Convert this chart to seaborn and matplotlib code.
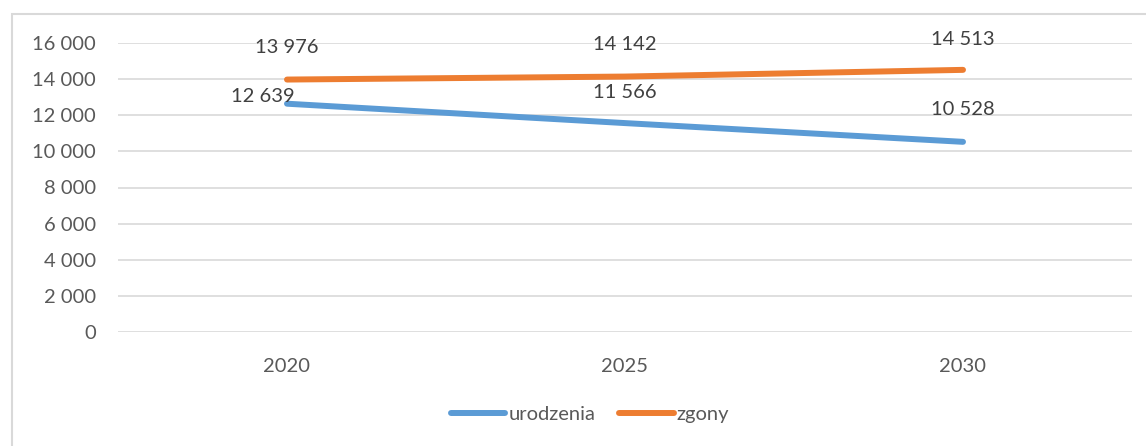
import matplotlib
matplotlib.use("Agg")
import matplotlib.pyplot as plt
import seaborn as sns
import pandas as pd
from matplotlib.patches import Rectangle
from matplotlib.lines import Line2D
from matplotlib.ticker import FuncFormatter, MultipleLocator

years = ["2020", "2025", "2030"]
urodzenia = [12639, 11566, 10528]
zgony = [13976, 14142, 14513]
series_names = ["urodzenia", "zgony"]
colors = ["#5B9BD5", "#ED7D31"]

df = pd.DataFrame({
    "rok": years * 2,
    "wartosc": urodzenia + zgony,
    "seria": [series_names[0]] * 3 + [series_names[1]] * 3,
})

sns.set_theme(style="white")
plt.rcParams["font.family"] = ["Lato", "DejaVu Sans"]
TXT = "#595959"
FS = 14.5

fig = plt.figure(figsize=(11.46, 4.46), dpi=100)
W, H = 1146, 446
ax = fig.add_axes([118 / W, 1 - 332 / H, (1132 - 118) / W, (332 - 43) / H])

sns.lineplot(data=df, x="rok", y="wartosc", hue="seria", palette=colors,
             linewidth=4.3, ax=ax, legend=False, sort=False,
             solid_capstyle="round")

ax.set_xlim(-0.5, 2.5)
ax.set_ylim(0, 16000)
ax.yaxis.set_major_locator(MultipleLocator(2000))
ax.yaxis.set_major_formatter(FuncFormatter(lambda v, p: f"{int(v):,}".replace(",", " ")))
ax.grid(axis="y", color="#D9D9D9", linewidth=1.2)
ax.grid(axis="x", visible=False)
for s in ax.spines.values():
    s.set_visible(False)
ax.tick_params(axis="both", length=0, labelsize=FS, colors=TXT)
ax.tick_params(axis="y", pad=16)
ax.tick_params(axis="x", pad=19)
ax.set_xlabel("")
ax.set_ylabel("")

# data labels (offsets in pixels)
offs_u = [(-24, 7), (0, 31), (0, 32)]
offs_z = [(0, 32), (0, 32), (0, 30)]
for i, yv in enumerate(urodzenia):
    ax.annotate(f"{yv:,}".replace(",", " "), (i, yv), xytext=offs_u[i],
                textcoords="offset pixels", ha="center", va="center",
                fontsize=FS, color="#404040")
for i, yv in enumerate(zgony):
    ax.annotate(f"{yv:,}".replace(",", " "), (i, yv), xytext=offs_z[i],
                textcoords="offset pixels", ha="center", va="center",
                fontsize=FS, color="#404040")

# legend
handles = [Line2D([0], [0], color=c, linewidth=4.3, solid_capstyle="round") for c in colors]
leg = fig.legend(handles, series_names, loc="center", bbox_to_anchor=(590 / W, 1 - 414 / H),
                 ncol=2, frameon=False, fontsize=FS, handlelength=2.7,
                 handletextpad=0.15, columnspacing=1.2, labelcolor=TXT)

# chart border
fig.patches.append(Rectangle((12 / W, -0.1), 1.2, 1 - 14 / H + 0.1,
                             transform=fig.transFigure, fill=False,
                             edgecolor="#D9D9D9", linewidth=1.5))

fig.savefig("out.png", dpi=100)
